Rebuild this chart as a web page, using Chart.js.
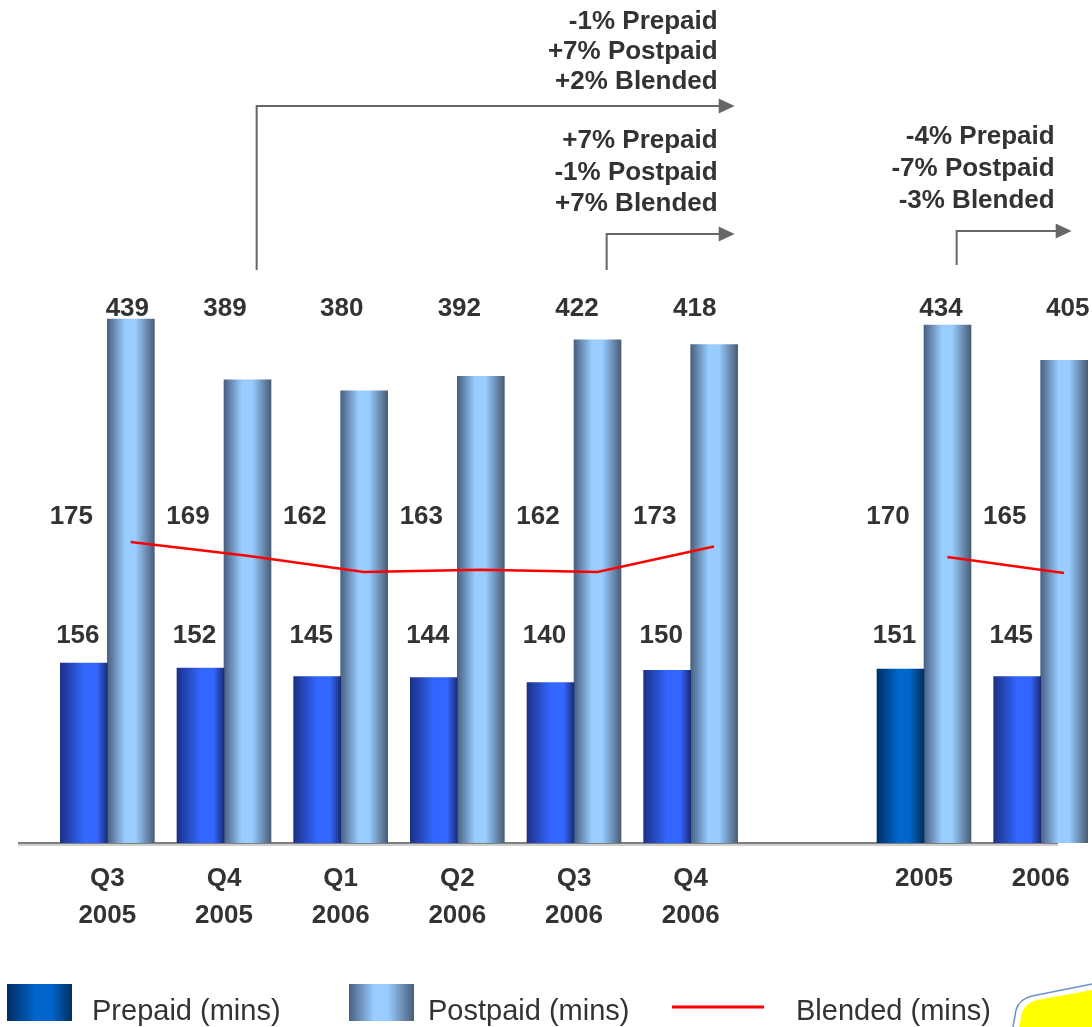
<!DOCTYPE html>
<html>
<head>
<meta charset="utf-8">
<title>Minutes of use</title>
<script src="https://cdn.jsdelivr.net/npm/chart.js@4.4.1/dist/chart.umd.min.js"></script>
<style>
  html, body { margin: 0; padding: 0; background: #fff; overflow: hidden; }
  #wrap { width: 1099px; height: 1027px; }
</style>
</head>
<body>
<div id="wrap"><canvas id="mouChart" width="1099" height="1027"></canvas></div>
<script>
// minutes of use, quarters on the left, full years on the right
const categories = [['Q3', '2005'], ['Q4', '2005'], ['Q1', '2006'], ['Q2', '2006'], ['Q3', '2006'], ['Q4', '2006'], '', '2005', '2006'];
const prepaidMins = [156, 152, 145, 144, 140, 150, null, 151, 145];
const postpaidMins = [439, 389, 380, 392, 422, 418, null, 434, 405];
const blendedQuarter = [175, 169, 162, 163, 162, 173, null, null, null];
const blendedYear = [null, null, null, null, null, null, null, 170, 165];

const changeNotes = [
  { from: 1, to: 5, lines: ['-1% Prepaid', '+7% Postpaid', '+2% Blended'] },
  { from: 4, to: 5, lines: ['+7% Prepaid', '-1% Postpaid', '+7% Blended'] },
  { from: 7, to: 8, lines: ['-4% Prepaid', '-7% Postpaid', '-3% Blended'] }
];

// layout of the three arrow notes (pixels)
const noteBoxes = [
  { top: 22, step: 30, arrowY: 106, foot: 270, tipShift: 44 },
  { top: 141, step: 31.5, arrowY: 234, foot: 270, tipShift: 44 },
  { top: 137, step: 32, arrowY: 231, foot: 265, tipShift: 31 }
];
// postpaid value labels are not all centred on their bar in the slide
const postLabelShift = [20, 1, 1, 2, 3, 4, 0, 17, 27];

const FONT = '"Liberation Sans", Arial, Helvetica, sans-serif';
const TEXT = '#333333';
const BAR_W = 47;

const fills = {
  prepaid: { stops: [0, 0.5, 0.78, 1], colors: ['#1b3186', '#3366ff', '#3366ff', '#1a2c78'] },
  prepaidYear: { stops: [0, 0.45, 0.68, 1], colors: ['#002d62', '#0066cc', '#0066cc', '#002f5e'] },
  postpaid: { stops: [0, 0.38, 0.6, 1], colors: ['#486080', '#99ccff', '#99ccff', '#485d78'] }
};

Chart.defaults.font.family = FONT;

function makeGradient(c, x0, x1, fill) {
  const g = c.createLinearGradient(x0, 0, x1, 0);
  fill.stops.forEach((s, i) => g.addColorStop(s, fill.colors[i]));
  return g;
}

// side -1 = left bar of the pair, +1 = right bar
function barFill(ctx, side, fill) {
  const chart = ctx.chart;
  if (!chart.chartArea || !chart.scales.x) return fill.colors[1];
  const mid = chart.scales.x.getPixelForValue(ctx.dataIndex);
  const x0 = side < 0 ? mid - BAR_W : mid;
  return makeGradient(chart.ctx, x0, x0 + BAR_W, fill);
}

function linePoints(values) {
  return values.map((v, i) => ({ x: i + 0.2, y: v })).filter(p => p.y !== null);
}

const axisLine = {
  id: 'axisLine',
  beforeDatasetsDraw(chart) {
    const c = chart.ctx;
    const y = chart.chartArea.bottom;
    c.save();
    c.strokeStyle = '#cfcfcf';
    c.lineWidth = 2;
    c.beginPath(); c.moveTo(18, y + 2); c.lineTo(1058, y + 2); c.stroke();
    c.strokeStyle = '#7f7f7f';
    c.beginPath(); c.moveTo(18, y); c.lineTo(1058, y); c.stroke();
    c.restore();
  }
};

const valueLabels = {
  id: 'valueLabels',
  afterDatasetsDraw(chart) {
    const c = chart.ctx;
    const xs = chart.scales.x;
    const blended = blendedQuarter.map((v, i) => v !== null ? v : blendedYear[i]);
    c.save();
    c.font = 'bold 26px ' + FONT;
    c.fillStyle = TEXT;
    c.textAlign = 'center';
    c.textBaseline = 'middle';
    categories.forEach((cat, i) => {
      if (prepaidMins[i] === null) return;
      const mid = xs.getPixelForValue(i);
      c.fillText(String(postpaidMins[i]), mid + postLabelShift[i], 309);
      c.fillText(String(blended[i]), mid - 36, 517);
      c.fillText(String(prepaidMins[i]), mid - BAR_W / 2 - 6, 636);
    });
    c.restore();
  }
};

const changeArrows = {
  id: 'changeArrows',
  afterDraw(chart) {
    const c = chart.ctx;
    const xs = chart.scales.x;
    const cw = xs.width / categories.length;
    c.save();
    changeNotes.forEach((note, n) => {
      const box = noteBoxes[n];
      const x0 = xs.getPixelForValue(note.from) + cw * 0.28;
      const tip = xs.getPixelForValue(note.to) + box.tipShift;
      c.strokeStyle = '#666666';
      c.fillStyle = '#666666';
      c.lineWidth = 2;
      c.beginPath();
      c.moveTo(x0, box.foot);
      c.lineTo(x0, box.arrowY);
      c.lineTo(tip - 14, box.arrowY);
      c.stroke();
      c.beginPath();
      c.moveTo(tip, box.arrowY);
      c.lineTo(tip - 16, box.arrowY - 7.5);
      c.lineTo(tip - 16, box.arrowY + 7.5);
      c.closePath();
      c.fill();

      c.font = 'bold 26px ' + FONT;
      c.fillStyle = TEXT;
      c.textAlign = 'right';
      c.textBaseline = 'middle';
      note.lines.forEach((t, k) => c.fillText(t, tip - 17, box.top + k * box.step));
    });
    c.restore();
  }
};

const bottomLegend = {
  id: 'bottomLegend',
  afterDraw(chart) {
    const c = chart.ctx;
    const sets = chart.data.datasets;
    c.save();
    c.fillStyle = makeGradient(c, 7, 72, fills.prepaidYear);
    c.fillRect(7, 984, 65, 37);
    c.fillStyle = makeGradient(c, 349, 414, fills.postpaid);
    c.fillRect(349, 984, 65, 37);
    c.strokeStyle = '#ff0000';
    c.lineWidth = 3;
    c.beginPath(); c.moveTo(672, 1007); c.lineTo(764, 1007); c.stroke();

    c.font = '29px ' + FONT;
    c.fillStyle = TEXT;
    c.textBaseline = 'middle';
    c.fillText(sets[2].label, 92, 1012);
    c.fillText(sets[3].label, 428, 1012);
    c.fillText(sets[0].label, 796, 1012);

    // corner of the yellow callout cut off by the slide edge
    c.strokeStyle = '#6b95c8';
    c.lineWidth = 1.5;
    c.beginPath();
    c.moveTo(1013, 1027);
    c.lineTo(1016, 1010);
    c.quadraticCurveTo(1019, 999, 1032, 996);
    c.lineTo(1092, 984);
    c.stroke();
    c.fillStyle = '#ffff00';
    c.beginPath();
    c.moveTo(1019, 1027);
    c.lineTo(1022, 1013);
    c.quadraticCurveTo(1025, 1003, 1037, 1000);
    c.lineTo(1092, 990);
    c.lineTo(1092, 1027);
    c.closePath();
    c.fill();
    c.restore();
  }
};

new Chart(document.getElementById('mouChart'), {
  type: 'bar',
  data: {
    labels: categories,
    datasets: [
      {
        type: 'line', label: 'Blended (mins)', data: linePoints(blendedQuarter),
        xAxisID: 'xLine', yAxisID: 'yQuarter', order: 0, grouped: false,
        borderColor: '#ff0000', borderWidth: 2.5, pointRadius: 0, tension: 0
      },
      {
        type: 'line', label: 'Blended (mins)', data: linePoints(blendedYear),
        xAxisID: 'xLine', yAxisID: 'yYear', order: 0, grouped: false,
        borderColor: '#ff0000', borderWidth: 2.5, pointRadius: 0, tension: 0
      },
      {
        label: 'Prepaid (mins)', data: prepaidMins, order: 1, borderWidth: 0, barThickness: BAR_W,
        backgroundColor: ctx => barFill(ctx, -1, ctx.dataIndex === categories.indexOf('2005') ? fills.prepaidYear : fills.prepaid)
      },
      {
        label: 'Postpaid (mins)', data: postpaidMins, order: 1, borderWidth: 0, barThickness: BAR_W,
        backgroundColor: ctx => barFill(ctx, 1, fills.postpaid)
      }
    ]
  },
  options: {
    responsive: false,
    animation: false,
    events: [],
    layout: { padding: { top: 270, left: 49, right: 0, bottom: 0 } },
    plugins: { legend: { display: false }, tooltip: { enabled: false } },
    scales: {
      x: {
        type: 'category',
        offset: true,
        grid: { display: false, drawTicks: false },
        border: { display: false },
        ticks: {
          autoSkip: false, maxRotation: 0, padding: 18, color: TEXT,
          font: { size: 26, weight: 'bold', lineHeight: 1.4 }
        },
        afterFit: axis => { axis.height = 184; }
      },
      xLine: { type: 'linear', display: false, offset: false, bounds: 'data', min: -0.5, max: categories.length - 0.5 },
      y: { display: false, bounds: 'data', min: 8, max: 479.4 },
      yQuarter: { type: 'linear', display: false, bounds: 'data', min: 44.7, max: 292.7 },
      yYear: { type: 'linear', display: false, bounds: 'data', min: 80.6, max: 259.7 }
    }
  },
  plugins: [axisLine, valueLabels, changeArrows, bottomLegend]
});
</script>
</body>
</html>
